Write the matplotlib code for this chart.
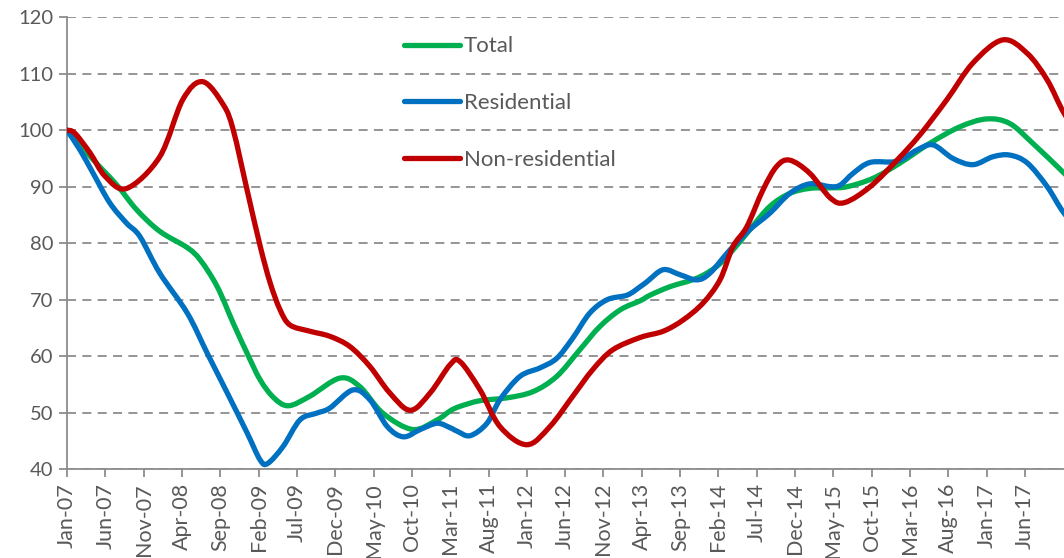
import matplotlib
matplotlib.use("Agg")
import matplotlib.pyplot as plt
from matplotlib.path import Path
from matplotlib.patches import PathPatch
from matplotlib.lines import Line2D

plt.rcParams['font.family'] = ['Lato', 'DejaVu Sans']

# months since Jan-07
total_m = [0, 3.4, 6.5, 9.1, 12.1, 15.7, 17.4, 19.6, 21.7, 23.5, 25.2, 27, 28.9, 31.7, 35.6, 38.2,
           41.2, 45.1, 48.3, 50, 51.3, 53.9, 57.4, 60.8, 63.9, 66.9, 69.5, 72.2, 74.8, 76.1, 78.7,
           82.2, 84.8, 86.9, 89.1, 91.7, 94.3, 96.9, 99.6, 101.8, 105.2, 108.7, 112.6, 116.5, 120,
           123, 126, 130.1, 133]
total_v = [100, 94.8, 90.3, 85.9, 82.1, 79.2, 77, 72.3, 65.8, 60.5, 55.8, 52.6, 51.2, 52.9, 56.1, 54.6,
           49.9, 47, 48.7, 50.3, 51.1, 52.1, 52.6, 53.7, 56.4, 61.1, 65.2, 68.2, 69.8, 70.8, 72.3,
           73.8, 75.9, 78.8, 82.4, 86.5, 88.8, 89.7, 89.8, 90, 91.5, 94.2, 97.7, 100.6, 102,
           101.2, 97.7, 92.4, 88.5]

res_m = [0, 1.7, 3.4, 5.6, 7.8, 9.5, 12.1, 15.7, 18.3, 20.9, 23.5, 25.2, 26.2, 28.2, 30.4, 32.6,
         34.3, 37.3, 39.5, 41.8, 43.9, 46.1, 48.3, 50, 50.9, 52.6, 54.8, 56.5, 59.1, 61.7, 63.9,
         66, 68.2, 70.5, 73.1, 74.8, 75.7, 77.8, 80, 82.2, 83.9, 86.5, 89.1, 91.7, 94.3, 96.9,
         99.6, 100.9, 102.6, 104.8, 108.3, 110.9, 113, 115.6, 118.2, 120.8, 123, 125.3, 127.9,
         130.1, 133]
res_v = [100, 96.5, 92.4, 87.1, 83.5, 81.2, 74.7, 67.6, 60.5, 53.5, 46.4, 41.6, 41, 44, 48.7, 49.9,
         50.8, 54, 52.3, 47.5, 45.7, 47, 48.1, 47.3, 46.7, 45.9, 48.1, 52.3, 56.4, 57.9, 59.6,
         63.2, 67.6, 70, 70.8, 72.3, 73.2, 75.3, 74.4, 73.5, 74.7, 78.8, 82.4, 85.3, 88.8, 90.5,
         90, 90.3, 92.4, 94.3, 94.5, 96.5, 97.4, 95, 93.9, 95.3, 95.6, 94.2, 90, 85.3, 81]

non_m = [0, 1, 3, 5, 7.8, 12.1, 15.1, 17.7, 20.4, 21.7, 23.5, 25.2, 26.5, 27.8, 29.1, 31.7, 34.3,
         36.9, 39.5, 42.1, 44.8, 47.4, 50, 51.3, 53.9, 56.5, 60, 63, 66, 68.6, 71.2, 74.8,
         77.8, 80.4, 83, 85.2, 86.9, 88.7, 90.8, 92.6, 94.3, 96.9, 99.6, 101.5, 104.8, 108.3,
         111.3, 114.8, 118.2, 122.1, 125.3, 127.9, 130.1, 133]
non_v = [100, 99.5, 96, 91.8, 89.7, 95.3, 105.4, 108.6, 104.5, 100, 89.4, 79.5, 73, 68.2, 65.5, 64.4,
         63.5, 61.7, 58.2, 53.5, 50.4, 53.5, 58.5, 59, 54, 47.5, 44.3, 47.5, 52.9, 57.6, 61.1, 63.3,
         64.4, 66.4, 69.4, 73.5, 79.4, 82.9, 89.4, 93.6, 94.7, 92.4, 88, 87.2, 90, 94.7,
         99.2, 105.4, 111.9, 116, 113.6, 108.9, 103, 97]

tick_labels = ['Jan-07', 'Jun-07', 'Nov-07', 'Apr-08', 'Sep-08', 'Feb-09', 'Jul-09', 'Dec-09',
               'May-10', 'Oct-10', 'Mar-11', 'Aug-11', 'Jan-12', 'Jun-12', 'Nov-12', 'Apr-13',
               'Sep-13', 'Feb-14', 'Jul-14', 'Dec-14', 'May-15', 'Oct-15', 'Mar-16', 'Aug-16',
               'Jan-17', 'Jun-17']

series = [('Total', total_m, total_v, '#00B050'),
          ('Residential', res_m, res_v, '#0070C0'),
          ('Non-residential', non_m, non_v, '#C00000')]


def smooth_path(xs, ys):
    """Excel-style smoothed line: Bezier curves through the data points."""
    pts = list(zip(xs, ys))
    n = len(pts)
    verts = [pts[0]]
    codes = [Path.MOVETO]
    for i in range(n - 1):
        p0 = pts[i - 1] if i > 0 else pts[i]
        p1 = pts[i]
        p2 = pts[i + 1]
        p3 = pts[i + 2] if i + 2 < n else pts[i + 1]
        c1 = (p1[0] + (p2[0] - p0[0]) / 6, p1[1] + (p2[1] - p0[1]) / 6)
        c2 = (p2[0] - (p3[0] - p1[0]) / 6, p2[1] - (p3[1] - p1[1]) / 6)
        verts += [c1, c2, p2]
        codes += [Path.CURVE4] * 3
    return Path(verts, codes)


W, H = 1064, 558
fig = plt.figure(figsize=(W / 100, H / 100), dpi=100)
ppm = 7.664
xmax = 135
ax = fig.add_axes([67 / W, 89 / H, xmax * ppm / W, (469 - 17.3) / H])

lw = 3.8
handles = []
for z, (name, xs, ys, col) in enumerate(series):
    patch = PathPatch(smooth_path(xs, ys), facecolor='none', edgecolor=col, lw=lw,
                      capstyle='round', joinstyle='round', zorder=3 + z)
    ax.add_patch(patch)
    handles.append(Line2D([], [], color=col, lw=lw, solid_capstyle='round', label=name))

ax.set_xlim(0, xmax)
ax.set_ylim(40, 120)
ax.set_yticks(range(40, 121, 10))
ax.set_xticks([5 * i for i in range(len(tick_labels))])
ax.set_xticklabels(tick_labels, rotation=90)

gc = '#8C8C8C'
ax.yaxis.grid(True, color=gc, linestyle=(0, (5, 3.5)), linewidth=1.3)
ax.set_axisbelow(True)
for s in ['top', 'right']:
    ax.spines[s].set_visible(False)
for s in ['left', 'bottom']:
    ax.spines[s].set_color(gc)
    ax.spines[s].set_linewidth(1.3)
ax.tick_params(axis='both', colors=gc, length=6, width=1.3, labelsize=14.5, labelcolor='#595959')
ax.tick_params(axis='x', pad=4, labelsize=15.5)
ax.tick_params(axis='y', pad=4)

leg = fig.legend(handles=handles, loc='center left', bbox_to_anchor=(404 / W, 1 - 103 / H),
                 frameon=False, fontsize=16, handlelength=2.5, handletextpad=0.2,
                 labelspacing=1.65, borderpad=0, borderaxespad=0)
for t in leg.get_texts():
    t.set_color('#595959')

fig.savefig('out.png', dpi=100)
